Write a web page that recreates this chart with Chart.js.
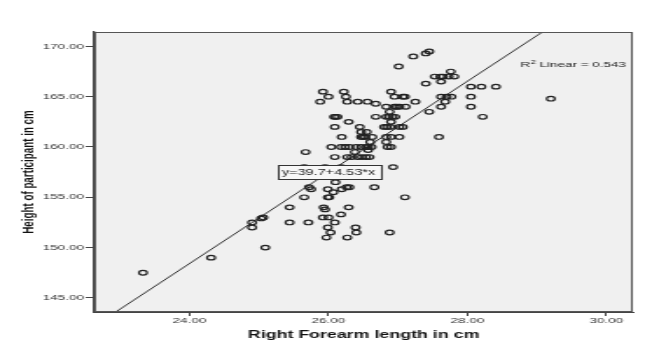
<!DOCTYPE html>
<html>
<head>
<meta charset="utf-8">
<script src="https://cdn.jsdelivr.net/npm/chart.js@4.4.1/dist/chart.umd.min.js"></script>
<style>
  html, body { margin: 0; padding: 0; background: #fff; overflow: hidden; }
  /* the reference is a horizontally stretched SPSS export, so draw narrow and stretch */
  #wrap { width: 369px; height: 348px; transform: scaleX(1.748); transform-origin: 0 0; }
</style>
</head>
<body>
<div id="wrap"><canvas id="myChart"></canvas></div>
<script>
//forearm length (x) and height (y) of each participant
const forearmLength = [
  27.45, 27.40, 27.22, 27.01, 27.76, 27.53, 27.61, 27.65, 27.73, 27.81,
  27.62, 27.40, 28.05, 28.20, 28.41, 29.20, 27.62, 27.70, 27.77, 28.05,
  27.68, 27.62, 28.05, 27.45, 28.22, 27.59, 25.92, 26.22, 26.00, 26.25,
  25.88, 26.27, 26.42, 26.56, 26.68, 26.90, 26.95, 27.07, 27.10, 27.25,
  26.83, 26.95, 26.98, 27.02, 27.11, 26.08, 26.10, 26.13, 26.68, 26.83,
  26.87, 26.92, 26.96, 26.29, 26.90, 26.09, 26.45, 26.80, 26.84, 26.89,
  27.02, 27.07, 26.47, 26.55, 26.88, 26.19, 26.47, 26.50, 26.53, 26.63,
  26.83, 26.90, 27.02, 26.60, 26.83, 26.04, 26.18, 26.24, 26.30, 26.40,
  26.47, 26.54, 26.57, 26.62, 26.85, 26.90, 25.67, 26.38, 26.57, 26.09,
  26.27, 26.33, 26.42, 26.48, 26.54, 26.59, 26.93, 25.65, 25.95, 26.18,
  26.10, 25.72, 25.75, 26.26, 26.30, 26.66, 25.99, 26.19, 26.07, 25.65,
  25.99, 26.01, 27.10, 25.44, 25.93, 25.95, 26.29, 26.18, 24.90, 24.90,
  25.03, 25.06, 25.44, 25.71, 25.92, 26.00, 26.09, 25.99, 26.03, 26.39,
  26.40, 25.97, 26.27, 26.88, 25.09, 24.31, 23.33
];
const heightCm = [
  169.5, 169.3, 169.0, 168.0, 167.5, 167.0, 167.0, 167.0, 167.0, 167.0,
  166.5, 166.3, 166.0, 166.0, 166.0, 164.8, 165.0, 165.0, 165.0, 165.0,
  164.5, 164.0, 164.0, 163.5, 163.0, 161.0, 165.5, 165.5, 165.0, 165.0,
  164.5, 164.5, 164.5, 164.5, 164.3, 165.5, 165.0, 165.0, 165.0, 164.5,
  164.0, 164.0, 164.0, 164.0, 164.0, 163.0, 163.0, 163.0, 163.0, 163.0,
  163.0, 163.0, 163.0, 162.5, 162.5, 162.0, 162.0, 162.0, 162.0, 162.0,
  162.0, 162.0, 161.5, 161.5, 163.5, 161.0, 161.0, 161.0, 161.0, 161.0,
  161.0, 161.0, 161.0, 160.5, 160.5, 160.0, 160.0, 160.0, 160.0, 160.0,
  160.0, 160.0, 160.0, 160.0, 160.0, 160.0, 159.5, 159.5, 159.7, 159.0,
  159.0, 159.0, 159.0, 159.0, 159.0, 159.0, 158.0, 158.0, 158.0, 158.0,
  156.5, 156.0, 155.8, 156.0, 156.0, 156.0, 155.8, 155.8, 155.5, 155.0,
  155.0, 155.0, 155.0, 154.0, 154.0, 153.8, 154.0, 153.3, 152.5, 152.0,
  152.9, 153.0, 152.5, 152.5, 153.0, 153.0, 152.5, 152.0, 151.5, 152.0,
  151.5, 151.0, 151.0, 151.5, 150.0, 149.0, 147.5
];

//fit line y = intercept + slope*x and its R squared
const intercept = 39.7;
const slope = 4.53;
const rSquared = 0.543;
const labelAtX = 26; //where SPSS puts the equation box on the line

//axes
const xTicks = [24, 26, 28, 30];
const yTicks = [145, 150, 155, 160, 165, 170];
const xRange = [22.63, 30.38];
const yRange = [143.6, 171.43];

const FONT = "'Liberation Sans', Arial, sans-serif";

//grey plot area + frame + the two text annotations
const spssFrame = {
  id: 'spssFrame',
  beforeDraw(chart) {
    const a = chart.chartArea, ctx = chart.ctx;
    ctx.save();
    ctx.fillStyle = '#f0f0f0';
    ctx.fillRect(a.left, a.top, a.right - a.left, a.bottom - a.top);
    ctx.restore();
  },
  afterDatasetsDraw(chart) {
    const a = chart.chartArea, ctx = chart.ctx;
    const xs = chart.scales.x, ys = chart.scales.y;
    ctx.save();
    ctx.strokeStyle = '#555';
    ctx.lineWidth = 1;
    ctx.strokeRect(a.left + 0.5, a.top + 0.5, a.right - a.left - 1, a.bottom - a.top - 1);

    //equation box
    const eq = 'y=' + intercept + '+' + slope + '*x';
    ctx.font = '8.3px ' + FONT;
    const w = ctx.measureText(eq).width + 5;
    const h = 14;
    const cx = xs.getPixelForValue(labelAtX);
    const cy = ys.getPixelForValue(intercept + slope * labelAtX);
    ctx.fillStyle = '#f7f7f7';
    ctx.fillRect(cx - w / 2, cy - h / 2, w, h);
    ctx.strokeStyle = '#333';
    ctx.strokeRect(Math.round(cx - w / 2) + 0.5, Math.round(cy - h / 2) + 0.5, Math.round(w), h);
    ctx.fillStyle = '#222';
    ctx.textAlign = 'center';
    ctx.textBaseline = 'middle';
    ctx.fillText(eq, cx, cy + 0.5);

    //R squared text, right aligned inside the plot
    const rest = ' Linear = ' + rSquared;
    ctx.textAlign = 'left';
    ctx.textBaseline = 'alphabetic';
    ctx.font = '7.7px ' + FONT;
    const wR = ctx.measureText('R').width;
    const wRest = ctx.measureText(rest).width;
    ctx.font = '5.6px ' + FONT;
    const wSup = ctx.measureText('2').width;
    const right = a.right - 4;
    const base = a.top + 35;
    let px = right - wR - wSup - wRest;
    ctx.font = '7.7px ' + FONT;
    ctx.fillText('R', px, base);
    px += wR;
    ctx.font = '5.6px ' + FONT;
    ctx.fillText('2', px, base - 3);
    px += wSup;
    ctx.font = '7.7px ' + FONT;
    ctx.fillText(rest, px, base);
    ctx.restore();
  }
};

const points = forearmLength.map((x, i) => ({x: x, y: heightCm[i]}));
const fitLine = xRange.map(x => ({x: x, y: intercept + slope * x}));

const config = {
  type: 'scatter',
  data: {
    datasets: [
      {
        data: points,
        pointRadius: 2.3,
        pointBorderWidth: 1.2,
        pointBorderColor: '#222',
        pointBackgroundColor: 'rgba(0,0,0,0)'
      },
      {
        type: 'line',
        data: fitLine,
        borderColor: '#333',
        borderWidth: 1,
        pointRadius: 0,
        clip: 0
      }
    ]
  },
  options: {
    responsive: true,
    maintainAspectRatio: false,
    animation: false,
    layout: { padding: { top: 32, right: 7, left: 0, bottom: 0 } },
    plugins: {
      legend: { display: false },
      tooltip: { enabled: false }
    },
    scales: {
      x: {
        type: 'linear',
        min: xRange[0],
        max: xRange[1],
        afterBuildTicks: s => { s.ticks = xTicks.map(v => ({value: v})); },
        afterFit: s => { s.height = 36; },
        ticks: {
          callback: v => v.toFixed(2),
          font: { family: FONT, size: 7.7 },
          color: '#333',
          padding: 0,
          maxRotation: 0,
          autoSkip: false
        },
        grid: { drawOnChartArea: false, drawTicks: true, tickLength: 4, color: '#444' },
        border: { color: '#444', width: 1 },
        title: {
          display: true,
          text: 'Right Forearm length in cm',
          font: { family: FONT, size: 10.2, weight: 'bold' },
          color: '#111',
          padding: { top: 0, bottom: 7 }
        }
      },
      y: {
        type: 'linear',
        min: yRange[0],
        max: yRange[1],
        afterBuildTicks: s => { s.ticks = yTicks.map(v => ({value: v})); },
        afterFit: s => { s.width = 54; },
        ticks: {
          callback: v => v.toFixed(2),
          font: { family: FONT, size: 7.7 },
          color: '#333',
          padding: 1,
          autoSkip: false
        },
        grid: { drawOnChartArea: false, drawTicks: true, tickLength: 5, color: '#444' },
        border: { color: '#444', width: 1.3 },
        title: {
          display: true,
          text: 'Height of participant in cm',
          font: { family: FONT, size: 9.8, weight: 'bold' },
          color: '#111',
          padding: 10
        }
      }
    }
  },
  plugins: [spssFrame]
};

const myChart = new Chart(document.getElementById('myChart'), config);
</script>
</body>
</html>
